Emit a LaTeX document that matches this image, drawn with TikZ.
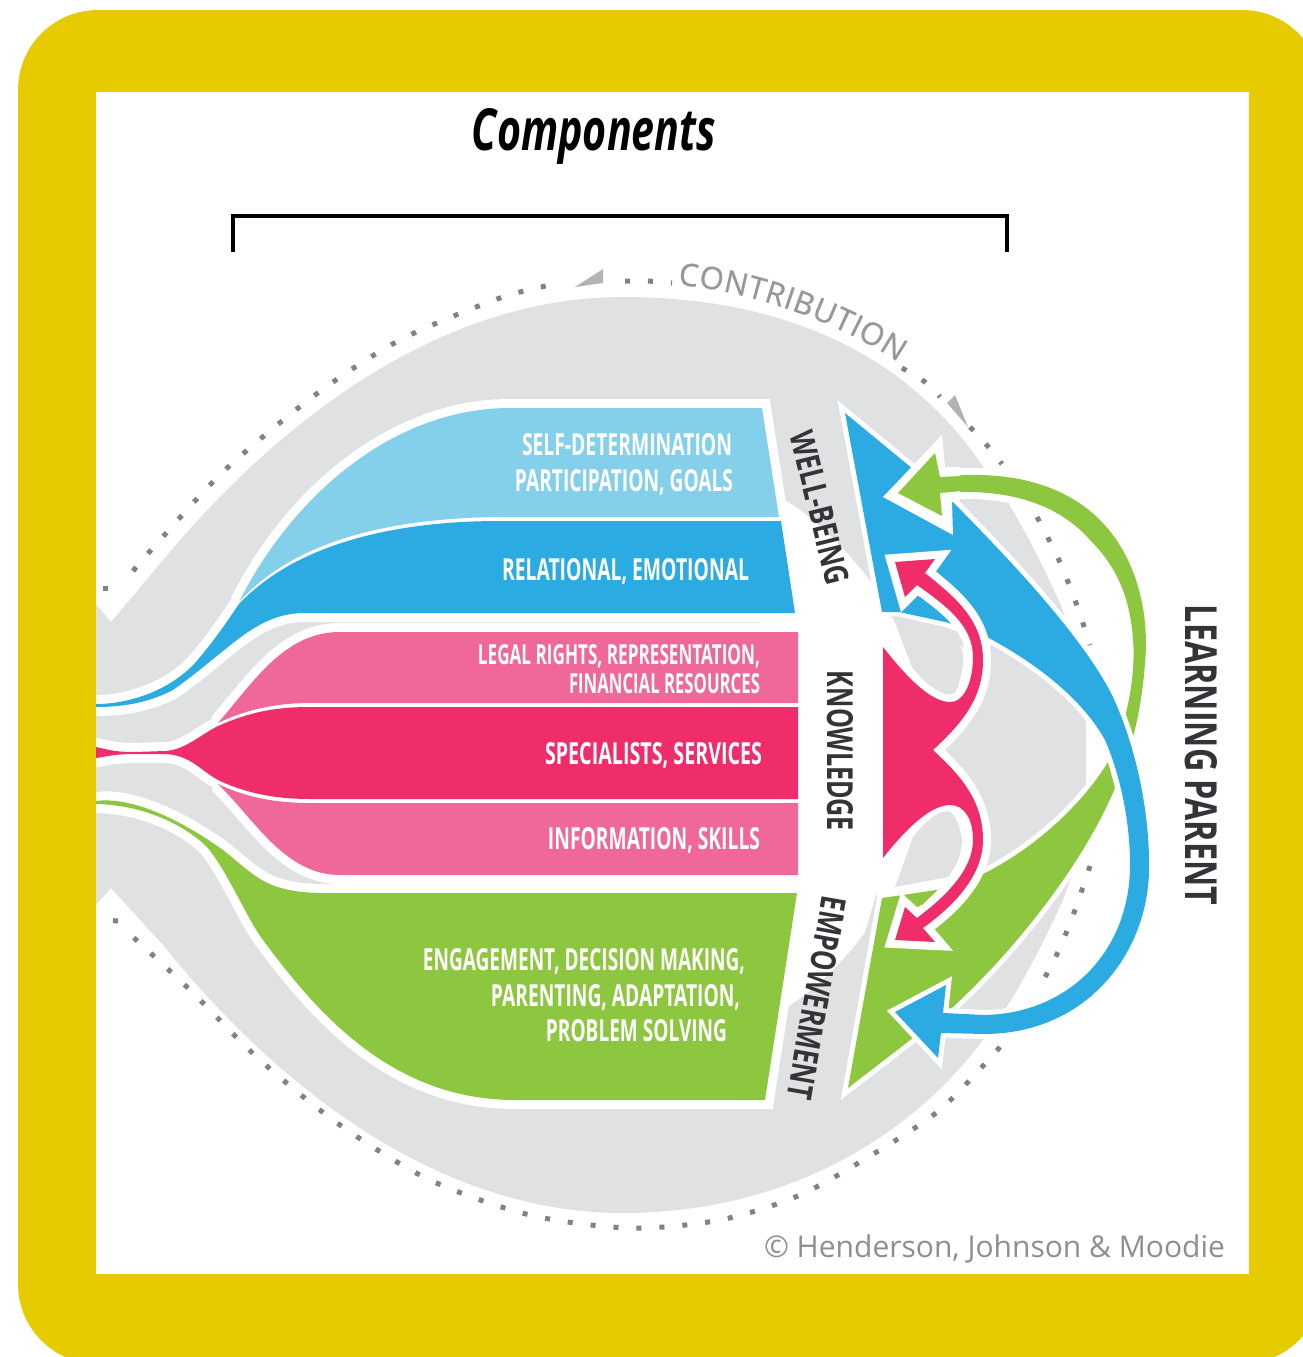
\documentclass[tikz,border=0pt]{standalone}
\usepackage{fontspec}
\usepackage{graphicx}
\setmainfont{Open Sans}
\newfontfamily\ctrfont[FakeBold=0.8]{Open Sans}
\usetikzlibrary{decorations.text}
\definecolor{yel}{HTML}{E6CB00}
\definecolor{gry}{HTML}{E0E1E3}
\definecolor{lblue}{HTML}{84D0EA}
\definecolor{blu}{HTML}{2BABE2}
\definecolor{lpink}{HTML}{F0679A}
\definecolor{dpink}{HTML}{EF2D6B}
\definecolor{grn}{HTML}{8DC63F}
\definecolor{dotc}{HTML}{808285}
\definecolor{trc}{HTML}{B1B3B6}
\definecolor{ink}{HTML}{333338}
\newcommand\fitb[3]{\resizebox{#1pt}{#2pt}{#3}}
\tikzset{
  lab/.style={inner sep=0pt,outer sep=0pt,anchor=base east,text=white,font=\bfseries},
  side/.style={inner sep=0pt,outer sep=0pt,text=ink,font=\bfseries},
  halo/.style={draw=white,line width=18pt,miter limit=4},
  dots/.style={dotc,line width=5pt,dash pattern=on 5pt off 18pt},
  edgew/.style={draw=white,line width=10pt,miter limit=12},
}
\begin{document}
\begin{tikzpicture}[x=1pt,y=-1pt]
\useasboundingbox (0,0) rectangle (1302,1357);
\fill[yel,rounded corners=80pt] (18,10) -- (1322,10) -- (1322,1364) -- (18,1364) -- cycle;
\fill[white] (96,92) rectangle (1249,1274);
\begin{scope}
\clip (96,92) rectangle (1249,1274);
% big grey body
\fill[gry] (96,604) -- (111,622) -- (163,560)
  .. controls (280,420) and (440,297) .. (623,297)
  .. controls (770,297) and (900,345) .. (982,465)
  .. controls (1012,502) and (1040,560) .. (1060,603)
  -- (1088,680) -- (1088,830) -- (1063,900)
  .. controls (1040,950) and (1012,1005) .. (983,1040)
  .. controls (900,1150) and (770,1213) .. (623,1213)
  .. controls (440,1213) and (280,1090) .. (163,945)
  -- (111,888) -- (96,905) -- cycle;
% white wedge behind the labels and the inner arrows
\fill[white] (780,497) .. controls (820,520) and (850,555) .. (872,583) -- (878,615) -- (945,630)
  -- (975,660) -- (950,730) -- (935,750) -- (950,775) -- (975,840) -- (945,885) -- (876,895) -- (865,932)
  .. controls (845,960) and (815,990) .. (787,1007) -- (760,1007) -- (760,497) -- cycle;
\fill[white] (1083,710) -- (1086,718) -- (1086,782) -- (1090,792) -- (1125,760) -- (1110,730) -- cycle;
% left flows: shared white halo
\def\plb{(239,602) .. controls (290,500) and (390,408) .. (510,408) -- (762,408) -- (779,517) -- (500,517) .. controls (380,518) and (290,545) .. (239,602) -- cycle}
\def\pbl{(96,704) .. controls (130,704) and (170,690) .. (195,663) .. controls (215,640) and (228,620) .. (239,604) .. controls (290,550) and (380,521) .. (500,521) -- (781,521) -- (795,613) -- (305,613) .. controls (255,613) and (230,650) .. (173,690) .. controls (150,702) and (125,707) .. (96,707) -- cycle}
\def\ppa{(218,723) .. controls (255,680) and (285,632) .. (340,632) -- (798,632) -- (798,703) -- (310,703) .. controls (275,703) and (245,710) .. (218,723) -- cycle}
\def\ppb{(96,747) .. controls (110,750) and (115,752) .. (135,752) -- (165,751) .. controls (185,750) and (200,735) .. (218,726) .. controls (250,712) and (275,707) .. (310,707) -- (798,707) -- (798,799) -- (310,799) .. controls (275,799) and (245,793) .. (218,780) .. controls (200,770) and (190,755) .. (165,754) -- (135,754) .. controls (115,754) and (110,756) .. (96,758) -- cycle}
\def\ppc{(218,784) .. controls (245,797) and (275,803) .. (310,803) -- (798,803) -- (798,875) -- (340,875) .. controls (285,875) and (255,820) .. (218,784) -- cycle}
\def\pgr{(96,801) .. controls (125,797) and (170,812) .. (223,850) .. controls (255,875) and (265,893) .. (325,893) -- (797,893) -- (765,1100) -- (515,1100) .. controls (390,1100) and (315,1010) .. (263,940) .. controls (246,917) and (228,872) .. (207,847) .. controls (190,830) and (150,805) .. (96,804) -- cycle}
\path[halo] \plb; \path[halo] \pbl; \path[halo] \ppa; \path[halo] \ppb; \path[halo] \ppc; \path[halo] \pgr;
\fill[lblue] \plb; \fill[blu] \pbl; \fill[lpink] \ppa; \fill[dpink] \ppb; \fill[lpink] \ppc; \fill[grn] \pgr;
% green wedge
\def\pgw{(882,898) -- (937,890) -- (985,873) .. controls (1040,845) and (1085,800) .. (1108,762)
  -- (1115,788) .. controls (1085,860) and (1020,945) .. (953,1007) -- (848,1088) -- cycle}
\path[edgew] \pgw;
\fill[grn] \pgw;
% green arrow: shaft
\def\gshaft{(940,477) .. controls (1000,470) and (1060,480) .. (1100,520) .. controls (1135,555) and (1150,610) .. (1145,663) .. controls (1143,690) and (1139,715) .. (1133,737) -- (1125,717) .. controls (1132,690) and (1135,660) .. (1133,640) .. controls (1130,595) and (1115,565) .. (1090,540) .. controls (1055,500) and (1000,488) .. (940,493) -- cycle}
\path[draw=white,line width=14pt] \gshaft;
\fill[grn] \gshaft;
% blue wedge, band and arrow
\def\pbw{(845,413) -- (953,502)
  .. controls (990,540) and (1080,630) .. (1113,697)
  .. controls (1135,745) and (1150,810) .. (1149,870)
  .. controls (1148,950) and (1090,1033) .. (985,1034)
  -- (941,1033) -- (938,1058) -- (895,1012) -- (946,985) -- (943,1013) -- (985,1015)
  .. controls (1070,1013) and (1130,950) .. (1130,865)
  .. controls (1130,815) and (1118,770) .. (1105,740)
  .. controls (1080,695) and (1030,660) .. (987,637)
  -- (946,622) -- (899,612) -- (882,612) -- cycle}
\path[edgew] \pbw;
\fill[blu] \pbw;
% green arrow: head
\fill[white] (883,497) -- (942,435) -- (945,467) -- (960,467) -- (960,500) -- (952,502) -- (953,535) -- cycle;
\fill[grn] (898,493) -- (935,453) -- (940,477) -- (962,476) -- (962,491) -- (940,493) -- (942,516) -- cycle;
% pink double arrow
\def\pinka{(883,647) .. controls (905,675) and (930,702) .. (950,702) .. controls (965,702) and (973,680) .. (973,657) .. controls (973,625) and (945,605) .. (917,585) -- (905,597) -- (895,562) -- (935,559) -- (925,573) .. controls (955,597) and (983,620) .. (983,660) .. controls (983,700) and (960,725) .. (933,750) .. controls (960,775) and (983,800) .. (983,840) .. controls (983,875) and (955,905) .. (923,928) -- (935,942) -- (895,940) -- (905,907) -- (917,918) .. controls (945,897) and (973,870) .. (973,840) .. controls (973,820) and (965,805) .. (950,805) .. controls (930,805) and (905,830) .. (883,858) -- cycle}
\path[draw=white,line width=16pt,miter limit=6] \pinka;
\fill[dpink] \pinka;
% grey loops
\fill[gry] (892,615) -- (947,628) .. controls (958,640) and (965,650) .. (963,662) .. controls (962,675) and (958,688) .. (955,693) .. controls (950,695) and (945,695) .. (943,693) .. controls (930,688) and (920,677) .. (912,667) -- cycle;
\fill[gry] (895,887) -- (948,877) .. controls (958,865) and (962,850) .. (962,840) .. controls (960,825) and (955,815) .. (950,812) .. controls (940,808) and (925,822) .. (913,837) -- cycle;
\fill[blu] (905,613) -- (920,597) -- (946,622) -- cycle;
\fill[grn] (910,895) -- (937,890) -- (922,905) -- cycle;
\end{scope}
% bracket
\draw[black,line width=4pt] (233,252) -- (233,216) -- (1007,216) -- (1007,252);
% dotted loop
\draw[dots] (103,588) -- (118,588);
\draw[dots] plot[smooth] coordinates {(133,571) (160,540) (225,470) (315,395) (400,340) (500,298) (556,284)};
\draw[dots] (625,281) -- (648,281) -- (672,283);
\draw[dots] plot[smooth] coordinates {(902,368) (925,382) (940,397)};
\draw[dots] plot[smooth] coordinates {(970,427) (985,443) (1002,464)};
\draw[dots] plot[smooth] coordinates {(1037,517) (1058,558) (1075,600) (1090,645)};
\draw[dots] plot[smooth] coordinates {(1090,866) (1075,910) (1058,952) (1037,992)};
\draw[dots] plot[smooth] coordinates {(1000,1047) (969,1081) (936,1113) (880,1150) (800,1195) (720,1220) (630,1228) (530,1215) (430,1180) (340,1125) (260,1060) (190,990) (133,937)};
\draw[dots] (118,921) -- (103,920);
\fill[trc] (575,287) -- (603,269) -- (603,283) -- cycle;
\fill[trc] (947,403) -- (955,395) -- (968,427) -- cycle;
% contribution
\path[postaction={decorate,decoration={text along path,text align=fit to path,text={|\ctrfont\fontsize{31}{31}\selectfont\color{trc!85!black}|CONTRIBUTION}}}] (678,285) .. controls (745,290) and (835,320) .. (898,362);
% titles
\node[inner sep=0pt,outer sep=0pt,anchor=base,text=black] (title) at (594,150) {\fitb{244}{42}{\bfseries\itshape Components}};
\node[inner sep=0pt,outer sep=0pt,anchor=base east,text=dotc!90] (copy) at (1225,1257) {\resizebox{461pt}{!}{\fontsize{30}{30}\selectfont © Henderson, Johnson \& Moodie}};
% flow labels
\node[lab] (l1) at (732,455) {\fitb{210}{22}{SELF-DETERMINATION}};
\node[lab] (l2) at (733,491) {\fitb{218}{22}{PARTICIPATION, GOALS}};
\node[lab] (l3) at (749,580) {\fitb{247}{22}{RELATIONAL, EMOTIONAL}};
\node[lab] (l4) at (760,664) {\fitb{282}{20}{LEGAL RIGHTS, REPRESENTATION,}};
\node[lab] (l5) at (760,693) {\fitb{191}{20}{FINANCIAL RESOURCES}};
\node[lab] (l6) at (762,764) {\fitb{217}{22}{SPECIALISTS, SERVICES}};
\node[lab] (l7) at (760,849) {\fitb{212}{22}{INFORMATION, SKILLS}};
\node[lab] (l8) at (745,970) {\fitb{322}{22}{ENGAGEMENT, DECISION MAKING,}};
\node[lab] (l9) at (740,1006) {\fitb{249}{22}{PARENTING, ADAPTATION,}};
\node[lab] (l10) at (727,1041) {\fitb{181}{22}{PROBLEM SOLVING}};
% side labels
\node[side,rotate=-76] (wb) at (820,508) {\fitb{157}{24}{WELL-BEING}};
\node[side,rotate=-90] (kn) at (840,751) {\fitb{160}{26}{KNOWLEDGE}};
\node[side,rotate=-100] (em) at (817,998) {\fitb{205}{25}{EMPOWERMENT}};
\node[side,rotate=-90] (lp) at (1201,755) {\fitb{300}{32}{LEARNING PARENT}};
\end{tikzpicture}
\end{document}
